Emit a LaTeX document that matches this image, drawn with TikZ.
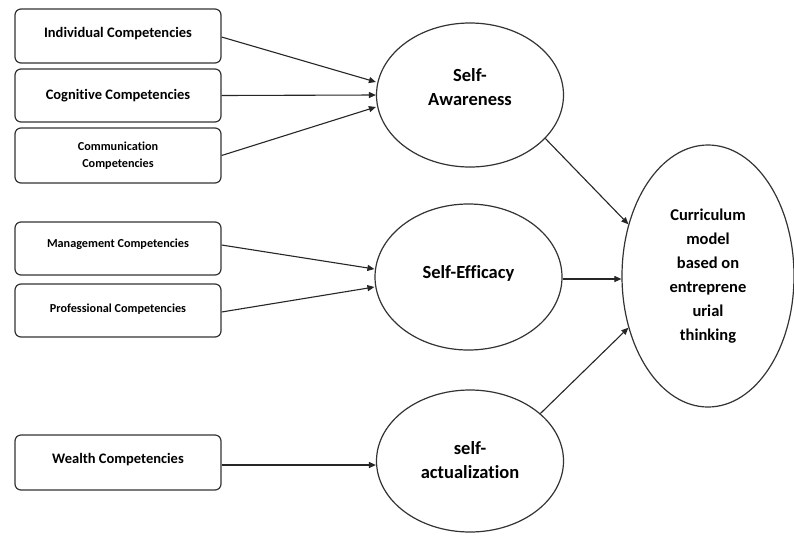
\documentclass[tikz,border=0pt]{standalone}
\usepackage{fontspec}
\setmainfont{Carlito}[Ligatures=NoCommon]
\usetikzlibrary{shapes.geometric,arrows.meta}
\begin{document}
\begin{tikzpicture}[x=1pt,y=-1pt,
  comp/.style={draw=black!80,line width=1.2pt,rounded corners=6pt,minimum width=206pt,minimum height=53pt,inner sep=0pt,align=center,font=\bfseries\fontsize{14.5}{17}\selectfont},
  small/.style={font=\bfseries\fontsize{12.2}{17}\selectfont},
  ell/.style={draw=black!80,line width=1.2pt,ellipse,inner sep=0pt,minimum width=187pt,minimum height=144pt,align=center,font=\bfseries\fontsize{18.5}{24}\selectfont},
  arr/.style={draw=black!85,line width=1.1pt,-{Triangle[length=7pt,width=6pt]}}]
\useasboundingbox[fill=white] (0,0) rectangle (794,536);
\node[comp,minimum height=54pt] (b1) at (118,36) {Individual Competencies\\[-9pt]};
\node[comp] (b2) at (118,95.5) {Cognitive Competencies};
\node[comp,small,minimum height=55pt] (b3) at (118,155.5) {Communication\\Competencies};
\node[comp,small] (b4) at (118,248.5) {Management Competencies\\[-6pt]};
\node[comp,small] (b5) at (118,310.5) {Professional Competencies\\[-12pt]};
\node[comp,minimum height=55pt] (b6) at (118,462.5) {Wealth Competencies\\[-8pt]};
\node[ell] (sa) at (470,95) {Self-\\Awareness\\[-8pt]};
\node[ell,minimum height=146pt] (se) at (468.5,277) {Self-Efficacy\\[-14pt]};
\node[ell,minimum height=142pt] (sac) at (470,461) {\mbox{}\\[-13pt]self-\\actualization};
\node[ell,minimum width=172pt,minimum height=262pt,font=\bfseries\fontsize{16.5}{24}\selectfont] (cm) at (708,276) {Curriculum\\model\\based on\\entreprene\\urial\\thinking};
\draw[arr] ([yshift=-1pt]b1.east) -- ([yshift=13pt]sa.west);
\draw[arr] (b2.east) -- (sa.west);
\draw[arr] (b3.east) -- ([yshift=-12pt]sa.west);
\draw[arr] ([yshift=3.5pt]b4.east) -- ([yshift=8pt]se.west);
\draw[arr] ([yshift=-1.5pt]b5.east) -- ([yshift=-10pt]se.west);
\draw[arr] ([yshift=-2.5pt]b6.east) -- ([yshift=-2.5pt]b6.east -| sac.west);
\draw[arr] (sa.-30) -- (cm.147);
\draw[arr] ([yshift=-2pt]se.east) -- ([yshift=-2pt]se.east -| cm.west);
\draw[arr] (sac.34) -- (cm.213);
\end{tikzpicture}
\end{document}
